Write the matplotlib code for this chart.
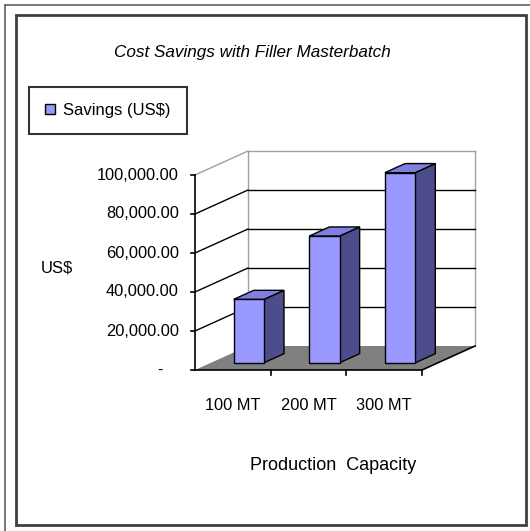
import matplotlib
matplotlib.use("Agg")
import matplotlib.pyplot as plt
from matplotlib.patches import Polygon, Rectangle
from matplotlib.lines import Line2D
import matplotlib.transforms as mtransforms

plt.rcParams['font.family'] = ['Liberation Sans', 'DejaVu Sans']

categories = ["100 MT", "200 MT", "300 MT"]
savings = [32500, 65000, 97500]
yticks = [0, 20000, 40000, 60000, 80000, 100000]
title = "Cost Savings with Filler Masterbatch"
series_name = "Savings (US$)"

W, H = 530, 531
fig = plt.figure(figsize=(W / 100, H / 100), dpi=100)
fig.patch.set_facecolor("white")

# front plane of the 3d box
ax = fig.add_axes([195 / W, (H - 370) / H, 227 / W, 195 / H])
ax.set_xlim(0, len(categories))
ax.set_ylim(0, 100000)
ax.axis("off")

# depth offset (in data units)
DX = 0.70
DY = 12300
f0, f1 = 0.30, 0.68   # bar front / back depth
half = 0.20

front_c = "#9999ff"
side_c = "#4d4d8c"
top_c = "#7f7fe0"

n = len(categories)
ymax = yticks[-1]

# floor
ax.add_patch(Polygon([(0, 0), (n, 0), (n + DX, DY), (DX, DY)], closed=True,
                     fc="#808080", ec="none", clip_on=False, zorder=1))
ax.plot([0, n], [0, 0], color="black", lw=1.2, clip_on=False, zorder=2)
ax.plot([n, n + DX], [0, DY], color="black", lw=1.2, clip_on=False, zorder=2)

# walls
ax.plot([DX, DX], [DY, ymax + DY], color="#a0a0a0", lw=1, clip_on=False, zorder=1)
ax.plot([n + DX, n + DX], [DY, ymax + DY], color="#a0a0a0", lw=1, clip_on=False, zorder=1)
ax.plot([DX, n + DX], [ymax + DY, ymax + DY], color="#a0a0a0", lw=1, clip_on=False, zorder=1)
ax.plot([0, DX], [ymax, ymax + DY], color="#a0a0a0", lw=1, clip_on=False, zorder=1)
for v in yticks[1:-1]:
    ax.plot([0, DX], [v, v + DY], color="black", lw=1, clip_on=False, zorder=1)
    ax.plot([DX, n + DX], [v + DY, v + DY], color="black", lw=1, clip_on=False, zorder=1)

# left axis
ax.plot([0, 0], [0, ymax], color="black", lw=1.2, clip_on=False, zorder=2)
lab_tr = mtransforms.offset_copy(ax.transData, fig=fig, x=-16, y=0, units="dots")
dash_tr = mtransforms.offset_copy(ax.transData, fig=fig, x=-32, y=0, units="dots")
for v in yticks:
    ax.add_line(Line2D([-0.055, 0], [v, v], color="black", lw=1.2, clip_on=False))
    if v == 0:
        ax.text(0, v, "-", transform=dash_tr, ha="right", va="center", fontsize=11.5)
    else:
        ax.text(0, v, f"{v:,.2f}", transform=lab_tr, ha="right", va="center",
                fontsize=11.8)

# category ticks under the floor
for i in range(1, n + 1):
    ax.add_line(Line2D([i, i], [0, -2800], color="black", lw=1.2, clip_on=False))

# bars
for i, v in enumerate(savings):
    c = i + 0.5
    x0 = c - half + f0 * DX
    x1 = c + half + f0 * DX
    y0 = f0 * DY
    d = (f1 - f0)
    top = [(x0, v + y0), (x1, v + y0), (x1 + d * DX, v + y0 + d * DY), (x0 + d * DX, v + y0 + d * DY)]
    side = [(x1, y0), (x1 + d * DX, y0 + d * DY), (x1 + d * DX, v + y0 + d * DY), (x1, v + y0)]
    frontp = Polygon([(x0, y0), (x1, y0), (x1, v + y0), (x0, v + y0)], closed=True,
                     fc=front_c, ec="black", lw=1, clip_on=False, zorder=5,
                     label=series_name if i == 0 else None)
    ax.add_patch(Polygon(side, closed=True, fc=side_c, ec="black", lw=1, clip_on=False, zorder=5))
    ax.add_patch(Polygon(top, closed=True, fc=top_c, ec="black", lw=1, clip_on=False, zorder=5))
    ax.add_patch(frontp)

# category labels
lab_y = mtransforms.blended_transform_factory(ax.transData, ax.transAxes)
for i, name in enumerate(categories):
    ax.text(i + 0.5, -36 / 195, name, transform=lab_y, ha="center", va="center",
            fontsize=11.8)

fig.text(252 / W, 1 - 53 / H, title, ha="center", va="center", fontsize=12.3,
         style="italic")
fig.text(333 / W, 1 - 465 / H, "Production  Capacity", ha="center", va="center",
         fontsize=13)
fig.text(73 / W, 1 - 268 / H, "US$", ha="right", va="center", fontsize=12)

leg = ax.legend(loc="upper left", bbox_to_anchor=(29 / W, 1 - 87 / H),
                bbox_transform=fig.transFigure, fontsize=12, frameon=True,
                fancybox=False, handlelength=0.6, handleheight=0.6,
                borderpad=0.95, handletextpad=0.5, borderaxespad=0)
leg.get_frame().set_edgecolor("black")
leg.get_frame().set_linewidth(1.5)

# chart frame
fig.add_artist(Rectangle((16 / W, 1 - 525 / H), 510 / W, 510 / H,
                         transform=fig.transFigure, fill=False, ec="#404040", lw=2))
fig.add_artist(Line2D([5 / W, 1], [1 - 5 / H, 1 - 5 / H], transform=fig.transFigure,
                      color="#606060", lw=1.2))
fig.add_artist(Line2D([5 / W, 5 / W], [0, 1 - 5 / H], transform=fig.transFigure,
                      color="#606060", lw=1.2))

fig.savefig("out.png", dpi=100)
